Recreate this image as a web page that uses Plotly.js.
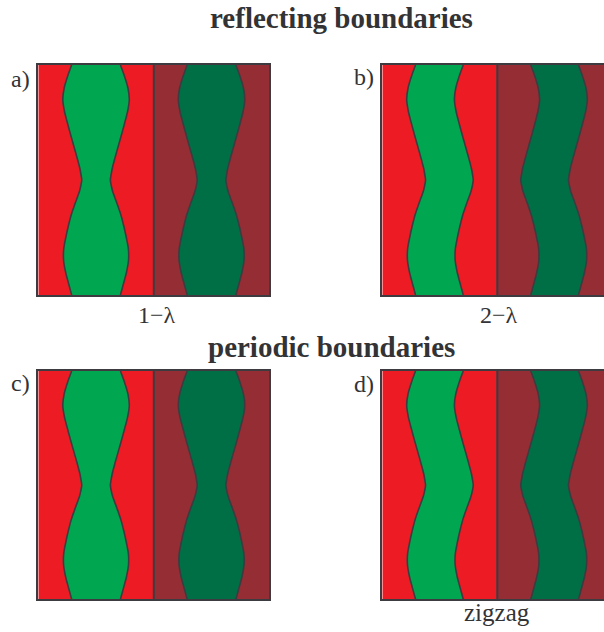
<!DOCTYPE html>
<html>
<head>
<meta charset="utf-8">
<script src="https://cdn.plot.ly/plotly-3.0.1.min.js"></script>
<style>html,body{margin:0;padding:0;background:#fff;}#chart{width:604px;height:632px;}</style>
</head>
<body>
<div id="chart"></div>
<script>
// vertical positions (fraction of panel height, top to bottom)
const levels = [0,0.05,0.1,0.15,0.2,0.25,0.3,0.35,0.4,0.45,0.475,0.5,0.525,0.55,0.6,0.65,0.7,0.75,0.8,0.85,0.9,0.95,1];
// "1-λ" pattern: band edges within one half-cell
const symLeft  = [0.289,0.253,0.224,0.212,0.226,0.251,0.278,0.306,0.334,0.360,0.369,0.376,0.368,0.356,0.320,0.286,0.260,0.238,0.220,0.219,0.236,0.262,0.289];
const symRight = [0.711,0.747,0.776,0.788,0.774,0.749,0.722,0.694,0.666,0.640,0.631,0.624,0.632,0.644,0.680,0.714,0.740,0.762,0.780,0.781,0.764,0.738,0.711];
// "2-λ" / zigzag pattern: light green band (left half)
const zigLeft  = [0.289,0.253,0.224,0.212,0.226,0.251,0.278,0.306,0.334,0.360,0.369,0.376,0.368,0.356,0.320,0.286,0.260,0.238,0.220,0.219,0.236,0.262,0.289];
const zigRight = [0.704,0.668,0.639,0.627,0.641,0.666,0.693,0.721,0.749,0.775,0.784,0.791,0.783,0.771,0.735,0.701,0.675,0.653,0.635,0.634,0.651,0.677,0.704];
// zigzag pattern: dark green band (right half)
const zigDarkLeft  = [0.291,0.327,0.356,0.368,0.354,0.329,0.302,0.274,0.246,0.220,0.211,0.204,0.212,0.224,0.260,0.294,0.320,0.342,0.360,0.361,0.344,0.318,0.291];
const zigDarkRight = [0.706,0.742,0.771,0.783,0.769,0.744,0.717,0.689,0.661,0.635,0.626,0.619,0.627,0.639,0.675,0.709,0.735,0.757,0.775,0.776,0.759,0.733,0.706];

const panelLetters = ["a)","b)","c)","d)"];
const bottomLabels = ["1\u2212\u03bb","2\u2212\u03bb","","zigzag"];
const sectionTitles = ["reflecting boundaries","periodic boundaries"];

const W = 604, H = 632;
const RED = "#ED1C24", DRED = "#952D35", GREEN = "#00A650", DGREEN = "#006F45", EDGE = "#3d3b40", TXT = "#333335";

// panels: pixel boxes
const panels = [
  {x0:38.3, x1:269.3, y0:65, y1:295, xmax:2, pattern:"sym"},
  {x0:382.3, x1:604, y0:65, y1:295, xmax:(604-382.3)/115, pattern:"zig"},
  {x0:38.3, x1:269.3, y0:371, y1:599.3, xmax:2, pattern:"sym"},
  {x0:382.3, x1:604, y0:371, y1:599.3, xmax:(604-382.3)/115, pattern:"zig"}
];

const data = [];
const layout = {
  width: W, height: H, margin:{l:0,r:0,t:0,b:0},
  paper_bgcolor:"#fff", plot_bgcolor:"#fff", showlegend:false,
  annotations: [], shapes: []
};

panels.forEach((p, i) => {
  const n = i === 0 ? "" : String(i+1);
  const xa = "x"+n, ya = "y"+n;
  const full = p.pattern === "sym";
  layout["xaxis"+n] = {
    domain:[p.x0/W, p.x1/W], range:[0, p.xmax], anchor: ya,
    showgrid:false, zeroline:false, showticklabels:false, ticks:"",
    showline:true, mirror:true, linecolor:EDGE, linewidth:2, fixedrange:true
  };
  layout["yaxis"+n] = {
    domain:[1-p.y1/H, 1-p.y0/H], range:[1, 0], anchor: xa,
    showgrid:false, zeroline:false, showticklabels:false, ticks:"",
    showline:true, mirror: full ? true : false, linecolor:EDGE, linewidth:2, fixedrange:true
  };
  // backgrounds
  data.push({x:[0,1,1,0,0], y:[0,0,1,1,0], xaxis:xa, yaxis:ya, mode:"lines", fill:"toself",
    fillcolor:RED, line:{width:0}, hoverinfo:"skip"});
  data.push({x:[1,2,2,1,1], y:[0,0,1,1,0], xaxis:xa, yaxis:ya, mode:"lines", fill:"toself",
    fillcolor:DRED, line:{width:0}, hoverinfo:"skip"});
  const bands = full
    ? [[symLeft, symRight, 0, GREEN], [symLeft, symRight, 1, DGREEN]]
    : [[zigLeft, zigRight, 0, GREEN], [zigDarkLeft, zigDarkRight, 1, DGREEN]];
  bands.forEach(([L, R, off, col]) => {
    data.push({x:L.map(v=>v+off), y:levels, xaxis:xa, yaxis:ya, mode:"lines",
      line:{color:EDGE, width:1.6, shape:"spline", smoothing:0.8}, hoverinfo:"skip"});
    data.push({x:R.map(v=>v+off), y:levels, xaxis:xa, yaxis:ya, mode:"lines", fill:"tonextx",
      fillcolor:col, line:{color:EDGE, width:1.6, shape:"spline", smoothing:0.8}, hoverinfo:"skip"});
  });
  // middle divider
  data.push({x:[1,1], y:[0,1], xaxis:xa, yaxis:ya, mode:"lines",
    line:{color:EDGE, width:2}, hoverinfo:"skip"});
});

function ann(text, px, py, size, bold) {
  layout.annotations.push({
    text: bold ? "<b>"+text+"</b>" : text, xref:"paper", yref:"paper",
    x: px/W, y: 1-py/H, xanchor:"center", yanchor:"middle", showarrow:false,
    font:{family:"Liberation Serif, Times New Roman, serif", size:size, color:TXT}
  });
}
ann(sectionTitles[0], 341, 18, 29, true);
ann(sectionTitles[1], 331, 347, 29, true);
ann(panelLetters[0], 20, 79, 24, false);
ann(panelLetters[1], 364, 77, 24, false);
ann(panelLetters[2], 20, 383, 24, false);
ann(panelLetters[3], 364, 384, 24, false);
ann(bottomLabels[0], 157, 315, 24, false);
ann(bottomLabels[1], 499, 315, 24, false);
ann(bottomLabels[3], 497, 612, 25, false);

Plotly.newPlot("chart", data, layout, {displayModeBar:false, staticPlot:true});
</script>
</body>
</html>
